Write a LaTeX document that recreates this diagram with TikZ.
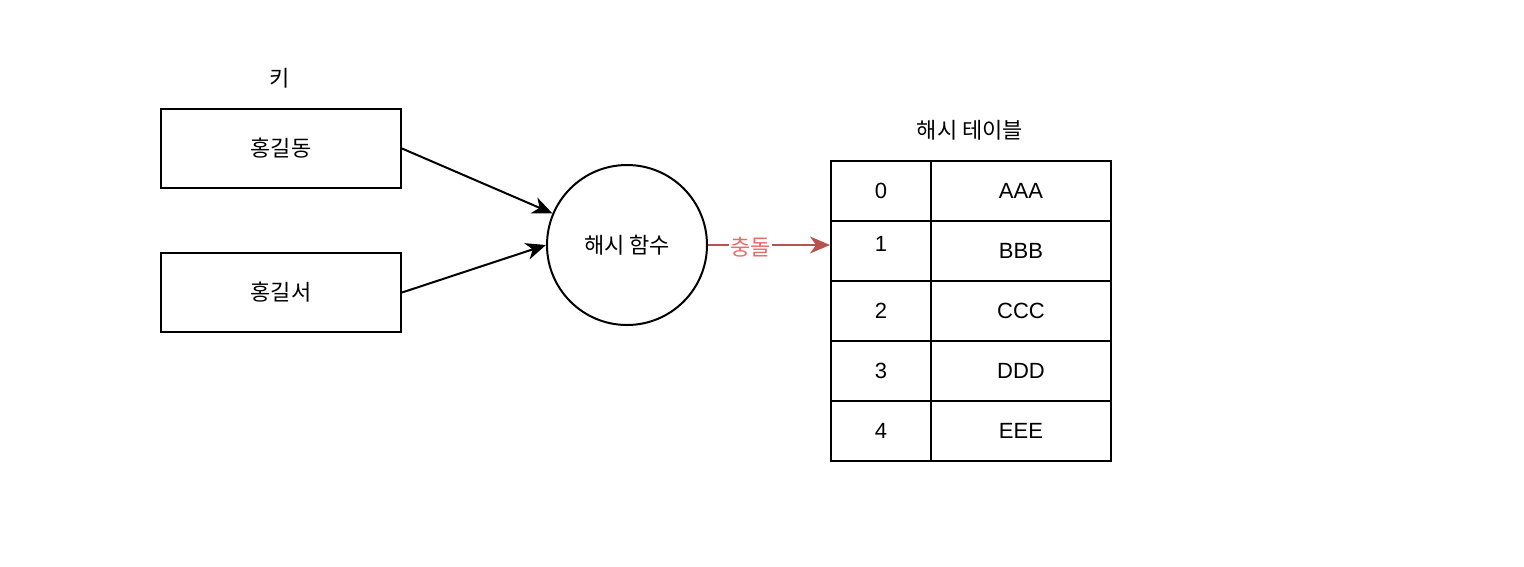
\documentclass[tikz,border=0pt]{standalone}
\usepackage{fontspec}
\setmainfont{Liberation Sans}
\newfontfamily\kr{Noto Sans CJK KR}
\usetikzlibrary{arrows.meta,calc}
\definecolor{redline}{HTML}{B85450}
\definecolor{redtext}{HTML}{EA6B66}
\tikzset{
  keybox/.style={draw, line width=2pt, minimum width=240pt, minimum height=79pt, inner sep=0pt, font=\kr\fontsize{22}{24}\selectfont},
  cell/.style={draw, line width=2pt, minimum height=60pt, inner sep=0pt, font=\fontsize{22}{26}\selectfont},
  lbl/.style={inner sep=0pt, font=\kr\fontsize{22}{24}\selectfont},
  num/.style={inner sep=0pt, font=\fontsize{22}{26}\selectfont},
  arr/.style={line width=2pt, -{Stealth[length=20pt,width=17pt,inset=6pt]}},
}
\begin{document}
\begin{tikzpicture}[x=1pt,y=-1pt]
\useasboundingbox (0,0) rectangle (1524,566);
\node[lbl] (key) at (280,78) {키};
\node[keybox] (a) at (281,148.5) {홍길동};
\node[keybox] (b) at (281,292.5) {홍길서};
\node[draw, circle, line width=2pt, minimum size=160pt, inner sep=0pt, font=\kr\fontsize{22}{24}\selectfont] (h) at (627,245) {해시 함수};
\node[lbl] (tt) at (970,130) {해시 테이블};
% table
\foreach \i/\v in {0/AAA,1/BBB,2/CCC,3/DDD,4/EEE}{
  \node[cell, minimum width=100pt] (k\i) at (881,191+60*\i) {};
  \node[cell, minimum width=180pt] (v\i) at (1021,191+60*\i) {\v};
}
\node[num] (t0) at (k0.center) {0};
\node[num] (t1) at ($(k1.center)+(0,-7)$) {1};
\node[num] (t2) at (k2.center) {2};
\node[num] (t3) at (k3.center) {3};
\node[num] (t4) at (k4.center) {4};
\coordinate (hit) at (k1.west |- h.east);
\draw[arr] (a.east) -- (h.157);
\draw[arr] (b.east) -- (h.west);
\draw[arr, color=redline] (h.east) -- node[fill=white, text=redtext, inner sep=1pt, font=\kr\fontsize{22}{24}\selectfont, pos=0.35, yshift=-2pt] {충돌} (hit);
\end{tikzpicture}
\end{document}
